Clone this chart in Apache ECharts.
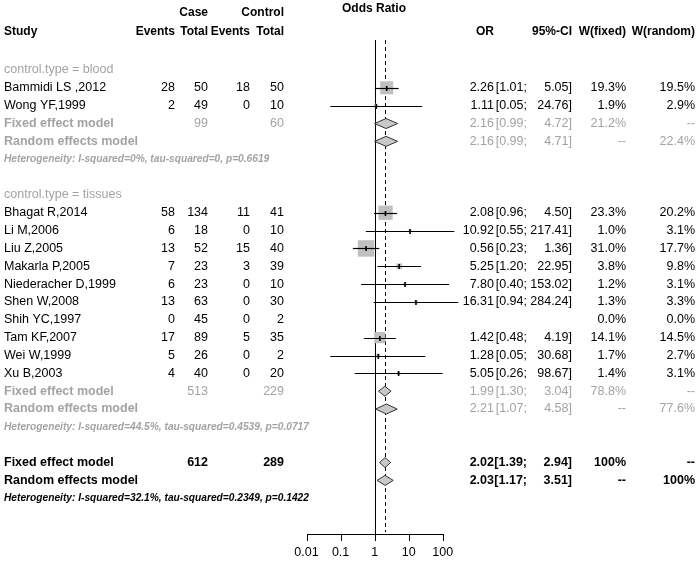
<!DOCTYPE html>
<html><head><meta charset="utf-8">
<script src="https://cdn.jsdelivr.net/npm/echarts@6/dist/echarts.min.js"></script>
<style>html,body{margin:0;padding:0;background:#fff}#c{width:700px;height:565px}</style>
</head><body><div id="c"></div><script>
// ---------- data ----------
const studies = ["Bammidi LS ,2012","Wong YF,1999","Bhagat R,2014","Li M,2006","Liu Z,2005","Makarla P,2005","Niederacher D,1999","Shen W,2008","Shih YC,1997","Tam KF,2007","Wei W,1999","Xu B,2003"];
const studyRows = [1,2,8,9,10,11,12,13,14,15,16,17];
const caseEvents = [28,2,58,6,13,7,6,13,0,17,5,4];
const caseTotal = [50,49,134,18,52,23,23,63,45,89,26,40];
const ctrlEvents = [18,0,11,0,15,3,0,0,0,5,0,0];
const ctrlTotal = [50,10,41,10,40,39,10,30,2,35,2,20];
const orVal = [2.26,1.11,2.08,10.92,0.56,5.25,7.80,16.31,null,1.42,1.28,5.05];
const ciLower = [1.01,0.05,0.96,0.55,0.23,1.20,0.40,0.94,null,0.48,0.05,0.26];
const ciUpper = [5.05,24.76,4.50,217.41,1.36,22.95,153.02,284.24,null,4.19,30.68,98.67];
const wFixed = [19.3,1.9,23.3,1.0,31.0,3.8,1.2,1.3,0.0,14.1,1.7,1.4];
const wRandom = [19.5,2.9,20.2,3.1,17.7,9.8,3.1,3.3,0.0,14.5,2.7,3.1];

const groupLabels = ["control.type = blood","control.type = tissues"];
const groupRows = [0,7];

const pooledLabels = ["Fixed effect model","Random effects model","Fixed effect model","Random effects model","Fixed effect model","Random effects model"];
const pooledRows = [3,4,18,19,22,23];
const pooledOverall = [false,false,false,false,true,true];
const pooledCase = [99,null,513,null,612,null];
const pooledCtrl = [60,null,229,null,289,null];
const pooledOR = [2.16,2.16,1.99,2.21,2.02,2.03];
const pooledLower = [0.99,0.99,1.30,1.07,1.39,1.17];
const pooledUpper = [4.72,4.71,3.04,4.58,2.94,3.51];
const pooledWFixed = ["21.2%","--","78.8%","--","100%","--"];
const pooledWRandom = ["--","22.4%","--","77.6%","--","100%"];

const hetTexts = ["Heterogeneity: I-squared=0%, tau-squared=0, p=0.6619","Heterogeneity: I-squared=44.5%, tau-squared=0.4539, p=0.0717","Heterogeneity: I-squared=32.1%, tau-squared=0.2349, p=0.1422"];
const hetRows = [5,20,24];
const hetOverall = [false,false,true];

const tickValues = [0.01,0.1,1,10,100];
const tickLabels = ["0.01","0.1","1","10","100"];
const nullValue = 1;
const fixedEstimate = 2.02;

// ---------- layout / style ----------
const FONT = "'Liberation Sans', Arial, sans-serif";
const GRAY = "#a3a3a3";
const colX = {name:4, ce:175, ct:208, ne:250, nt:284, or:494, lo:527, up:572, wf:626, wr:695, title:374};
const headRow1 = -3.19, headRow2 = -2.13, titleRow = -3.45, lineTop = -1.68, lineBottom = 26, dashBottom = 25.9, axisRow = 26;

const cells = [];
function cell(row, col, text, opt) {
  cells.push(Object.assign({row, col, text, align: col === 'name' ? 'left' : 'right', color:'#000', weight:'normal', size:12.5, italic:false}, opt || {}));
}
const H = {weight:'bold', size:12};
cell(titleRow, 'title', 'Odds Ratio', {weight:'bold', size:12, align:'center'});
cell(headRow1, 'ct', 'Case', H);
cell(headRow1, 'nt', 'Control', H);
cell(headRow2, 'name', 'Study', H);
cell(headRow2, 'ce', 'Events', H);
cell(headRow2, 'ct', 'Total', H);
cell(headRow2, 'ne', 'Events', H);
cell(headRow2, 'nt', 'Total', H);
cell(headRow2, 'or', 'OR', H);
cell(headRow2, 'up', '95%-CI', H);
cell(headRow2, 'wf', 'W(fixed)', H);
cell(headRow2, 'wr', 'W(random)', H);
groupLabels.forEach((g, i) => cell(groupRows[i], 'name', g, {color: GRAY}));
studies.forEach((s, i) => {
  const r = studyRows[i];
  cell(r, 'name', s);
  cell(r, 'ce', String(caseEvents[i]));
  cell(r, 'ct', String(caseTotal[i]));
  cell(r, 'ne', String(ctrlEvents[i]));
  cell(r, 'nt', String(ctrlTotal[i]));
  if (orVal[i] != null) {
    cell(r, 'or', orVal[i].toFixed(2));
    cell(r, 'lo', '[' + ciLower[i].toFixed(2) + ';');
    cell(r, 'up', ciUpper[i].toFixed(2) + ']');
  }
  cell(r, 'wf', wFixed[i].toFixed(1) + '%');
  cell(r, 'wr', wRandom[i].toFixed(1) + '%');
});
pooledLabels.forEach((p, i) => {
  const r = pooledRows[i];
  const ov = pooledOverall[i];
  const c = ov ? '#000' : GRAY;
  const w = ov ? 'bold' : 'normal';
  cell(r, 'name', p, {color: c, weight: 'bold'});
  if (pooledCase[i] != null) cell(r, 'ct', String(pooledCase[i]), {color: c, weight: w});
  if (pooledCtrl[i] != null) cell(r, 'nt', String(pooledCtrl[i]), {color: c, weight: w});
  cell(r, 'or', pooledOR[i].toFixed(2), {color: c, weight: w});
  cell(r, 'lo', '[' + pooledLower[i].toFixed(2) + ';', {color: c, weight: w});
  cell(r, 'up', pooledUpper[i].toFixed(2) + ']', {color: c, weight: w});
  cell(r, 'wf', pooledWFixed[i], {color: c, weight: w});
  cell(r, 'wr', pooledWRandom[i], {color: c, weight: w});
});
hetTexts.forEach((h, i) => cell(hetRows[i], 'name', h, {color: hetOverall[i] ? '#000' : GRAY, weight:'bold', italic:true, size:10.2}));

const studyData = [];
studies.forEach((s, i) => { if (orVal[i] != null) studyData.push([orVal[i], studyRows[i], ciLower[i], ciUpper[i], wFixed[i]]); });
const maxW = Math.max.apply(null, wFixed);
const diamondData = pooledOR.map((v, i) => [v, pooledRows[i], pooledLower[i], pooledUpper[i]]);
const refData = [[nullValue, lineTop, lineBottom, 0], [fixedEstimate, lineTop, dashBottom, 1]];
const axisData = tickValues.map((v, i) => [v, axisRow, i]);

const chart = echarts.init(document.getElementById('c'), null, {renderer: 'canvas'});
chart.setOption({
  animation: false,
  backgroundColor: '#fff',
  // the y range runs one row past the axis row so the axis sits inside the grid
  grid: {left: 306.5, width: 136.3, top: 34.3, height: 517.5},
  xAxis: {type: 'log', logBase: 10, min: 0.01, max: 100, show: false},
  yAxis: {type: 'value', min: -2, max: 27, inverse: true, show: false},
  series: [
    {
      type: 'custom', clip: false,
      data: refData,
      renderItem: (params, api) => {
        const v = api.value(0);
        const a = api.coord([v, api.value(1)]);
        const b = api.coord([v, api.value(2)]);
        const x = Math.round(a[0]);
        if (api.value(3) === 0) {
          return {type: 'rect', shape: {x: x, y: a[1], width: 1, height: b[1] - a[1] + 1}, style: {fill: '#000'}};
        }
        return {type: 'line', shape: {x1: x + 0.5, y1: a[1], x2: x + 0.5, y2: b[1]},
          style: {stroke: '#000', lineWidth: 1, lineDash: [4, 3]}};
      }
    },
    {
      type: 'custom', clip: false,
      data: studyData,
      renderItem: (params, api) => {
        const row = api.value(1);
        const p = api.coord([api.value(0), row]);
        const pl = api.coord([api.value(2), row]);
        const pu = api.coord([api.value(3), row]);
        const s = 16.5 * Math.sqrt(api.value(4) / maxW);
        const y = Math.round(p[1]) + 0.5;
        return {type: 'group', children: [
          {type: 'rect', shape: {x: p[0] - s / 2, y: p[1] - s / 2, width: s, height: s}, style: {fill: '#c0c0c0'}},
          {type: 'line', shape: {x1: pl[0], y1: y, x2: pu[0], y2: y}, style: {stroke: '#000', lineWidth: 1.2}},
          {type: 'line', shape: {x1: p[0], y1: y - 2.5, x2: p[0], y2: y + 2.5}, style: {stroke: '#000', lineWidth: 1.6}}
        ]};
      }
    },
    {
      type: 'custom', clip: false,
      data: diamondData,
      renderItem: (params, api) => {
        const row = api.value(1);
        const p = api.coord([api.value(0), row]);
        const pl = api.coord([api.value(2), row]);
        const pu = api.coord([api.value(3), row]);
        const h = 5;
        return {type: 'polygon', shape: {points: [[pl[0], p[1]], [p[0], p[1] - h], [pu[0], p[1]], [p[0], p[1] + h]]},
          style: {fill: '#c8c8c8', stroke: '#333', lineWidth: 1}};
      }
    },
    {
      type: 'custom', clip: false,
      data: cells.map((c, i) => [1, c.row, i]),
      renderItem: (params, api) => {
        const c = cells[api.value(2)];
        const y = api.coord([1, api.value(1)])[1];
        return {type: 'text', x: colX[c.col], y: y,
          style: {text: c.text, fill: c.color, align: c.align, verticalAlign: 'middle',
            font: (c.italic ? 'italic ' : '') + c.weight + ' ' + c.size + 'px ' + FONT}};
      }
    },
    {
      // x axis: baseline, ticks and tick labels through the log scale
      type: 'custom', clip: false,
      data: axisData,
      renderItem: (params, api) => {
        const p = api.coord([api.value(0), api.value(1)]);
        const x = Math.round(p[0]), y = Math.round(p[1]);
        const children = [
          {type: 'rect', shape: {x: x, y: y, width: 1, height: 7}, style: {fill: '#000'}},
          {type: 'text', x: p[0], y: y + 19, style: {text: tickLabels[api.value(2)], fill: '#000', align: 'center', verticalAlign: 'middle', font: 'normal 12.5px ' + FONT}}
        ];
        if (api.value(2) === 0) {
          const q = api.coord([tickValues[tickValues.length - 1], api.value(1)]);
          children.push({type: 'rect', shape: {x: x, y: y, width: Math.round(q[0]) - x + 1, height: 1}, style: {fill: '#000'}});
        }
        return {type: 'group', children: children};
      }
    }
  ]
});
</script></body></html>
